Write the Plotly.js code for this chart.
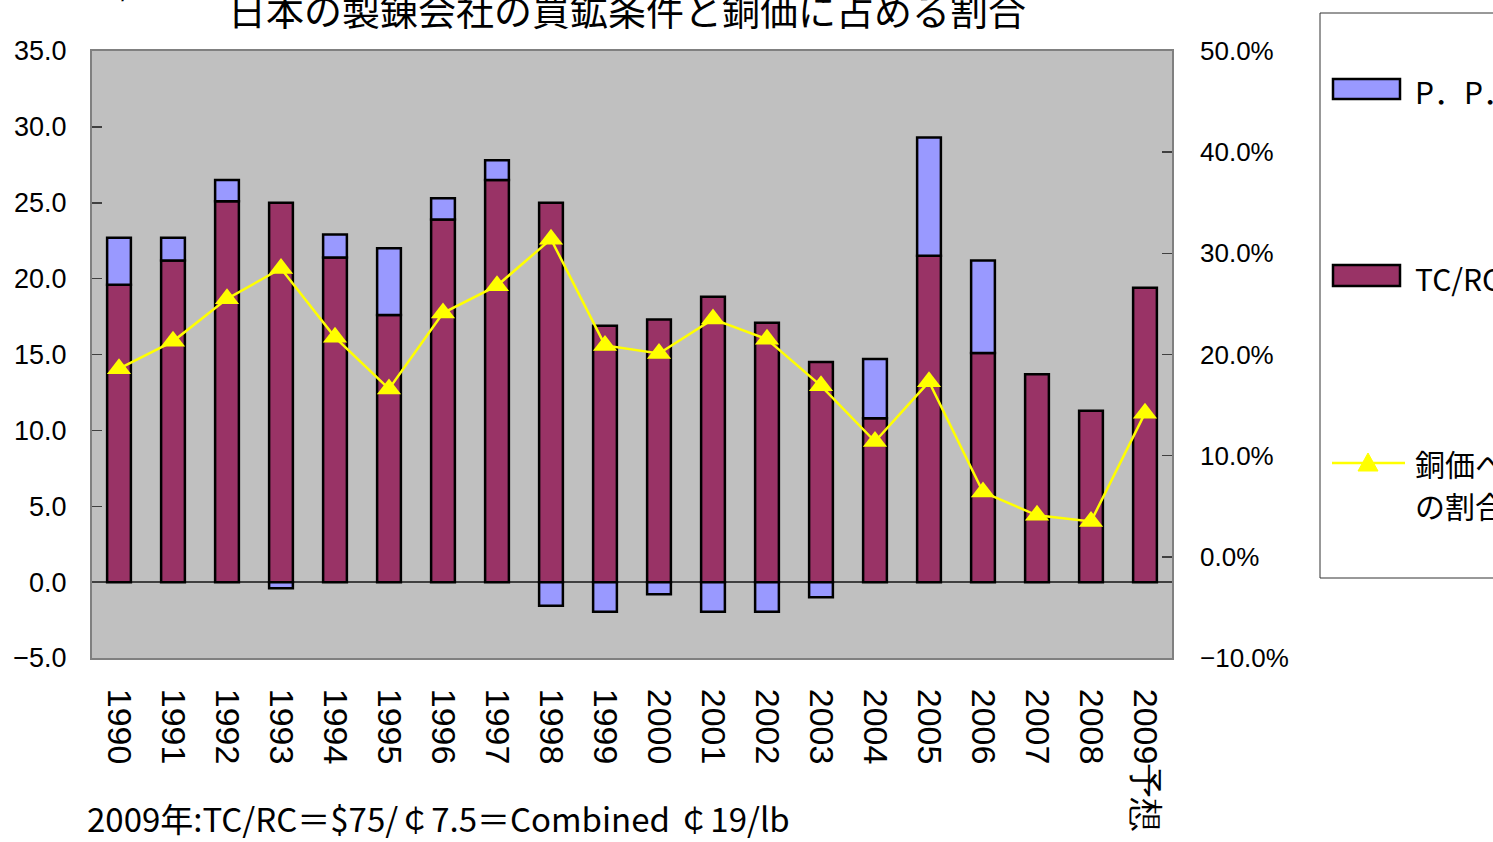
<!DOCTYPE html>
<html>
<head>
<meta charset="utf-8">
<script src="https://cdn.plot.ly/plotly-3.0.1.min.js"></script>
<style>html,body{margin:0;padding:0;background:#fff;overflow:hidden;}#chart{width:1493px;height:842px;}</style>
</head>
<body>
<div id="chart"></div>
<script>
// ---- data ----
var years = ['1990','1991','1992','1993','1994','1995','1996','1997','1998','1999',
             '2000','2001','2002','2003','2004','2005','2006','2007','2008','2009予想'];
var tcrc = [19.6, 21.2, 25.1, 25.0, 21.4, 17.6, 23.9, 26.5, 25.0, 16.9,
            17.3, 18.8, 17.1, 14.5, 10.8, 21.5, 15.1, 13.7, 11.3, 19.4];
var pp   = [3.1, 1.5, 1.4, -0.4, 1.5, 4.4, 1.4, 1.3, -1.55, -1.95,
            -0.8, -1.95, -1.95, -1.0, 3.9, 7.8, 6.1, null, null, null];
var share = [18.6, 21.3, 25.5, 28.5, 21.7, 16.6, 24.1, 26.8, 31.4, 20.9,
             20.1, 23.5, 21.5, 16.9, 11.4, 17.3, 6.4, 4.1, 3.5, 14.2];
var titleText = '日本の製錬会社の買鉱条件と銅価に占める割合';
var noteText = '2009年:TC/RC＝$75/￠7.5＝Combined ￠19/lb';
var unitText = '（￠/lb）';
var legendPP = 'P．P．';
var legendTC = 'TC/RC';
var legendShare1 = '銅価へ';
var legendShare2 = 'の割合';

// ---- geometry helpers (pixel -> paper) ----
var L = 92, R = 1172, T = 51, B = 658;
function px(x){ return (x - L) / (R - L); }
function py(y){ return (B - y) / (B - T); }

var cjk = '"Noto Sans CJK JP", "Noto Sans", sans-serif';
var latin = '"Liberation Sans", Arial, sans-serif';

var traces = [
  {type:'bar', name:legendTC, x:years, y:tcrc,
   marker:{color:'#993366', line:{color:'#000000', width:2.5}}, hoverinfo:'skip'},
  {type:'bar', name:legendPP, x:years, y:pp,
   marker:{color:'#9999FF', line:{color:'#000000', width:2.5}}, hoverinfo:'skip'},
  {type:'scatter', mode:'lines+markers', name:legendShare1 + legendShare2, x:years, y:share, yaxis:'y2',
   line:{color:'#FFFF00', width:2.5},
   marker:{symbol:'triangle-up', size:21, color:'#FFFF00'}, hoverinfo:'skip'}
];

var shapes = [
  {type:'rect', xref:'paper', yref:'paper', x0:px(1320), x1:px(1510), y0:py(578), y1:py(13),
   line:{color:'#333333', width:1}, fillcolor:'#FFFFFF', layer:'above'},
  {type:'rect', xref:'paper', yref:'paper', x0:px(1333), x1:px(1400), y0:py(99), y1:py(79),
   line:{color:'#000000', width:2.5}, fillcolor:'#9999FF', layer:'above'},
  {type:'rect', xref:'paper', yref:'paper', x0:px(1333), x1:px(1400), y0:py(286), y1:py(265),
   line:{color:'#000000', width:2.5}, fillcolor:'#993366', layer:'above'},
  {type:'line', xref:'paper', yref:'paper', x0:px(1332), x1:px(1405), y0:py(463), y1:py(463),
   line:{color:'#FFFF00', width:2.5}, layer:'above'},
  {type:'path', xref:'paper', yref:'paper',
   path:'M '+px(1368)+' '+py(453)+' L '+px(1378)+' '+py(471)+' L '+px(1358)+' '+py(471)+' Z',
   line:{color:'#FFFF00', width:1}, fillcolor:'#FFFF00', layer:'above'}
];

var annotations = [
  {xref:'paper', yref:'paper', x:px(85), y:py(818), xanchor:'left', yanchor:'middle',
   text:noteText, showarrow:false, font:{family:cjk, size:33, color:'#000'}},
  {xref:'paper', yref:'paper', x:px(1413), y:py(91), xanchor:'left', yanchor:'middle',
   text:legendPP, showarrow:false, font:{family:cjk, size:30, color:'#000'}},
  {xref:'paper', yref:'paper', x:px(1413), y:py(278), xanchor:'left', yanchor:'middle',
   text:legendTC, showarrow:false, font:{family:cjk, size:30, color:'#000'}},
  {xref:'paper', yref:'paper', x:px(1413), y:py(463), xanchor:'left', yanchor:'middle',
   text:legendShare1, showarrow:false, font:{family:cjk, size:30, color:'#000'}},
  {xref:'paper', yref:'paper', x:px(1413), y:py(505), xanchor:'left', yanchor:'middle',
   text:legendShare2, showarrow:false, font:{family:cjk, size:30, color:'#000'}},
  {xref:'paper', yref:'paper', x:px(125), y:py(-17), xanchor:'center', yanchor:'middle',
   text:unitText, showarrow:false, font:{family:cjk, size:30, color:'#000'}}
];

var layout = {
  width:1493, height:842,
  margin:{l:L, r:1493-R, t:T, b:842-B, pad:0},
  paper_bgcolor:'#FFFFFF', plot_bgcolor:'#C0C0C0',
  showlegend:false,
  barmode:'relative', bargap:0.56,
  title:{text:titleText, xref:'container', yref:'container', x:627/1493, xanchor:'center',
         y:1-12/842, yanchor:'middle', font:{family:cjk, size:38, color:'#000'}},
  xaxis:{type:'category', range:[-0.5, 19.5], tickangle:90, ticks:'', showline:true, mirror:true,
         linecolor:'#808080', linewidth:2, showgrid:false, ticklabelstandoff:22,
         tickfont:{family:latin, size:34, color:'#000'}},
  yaxis:{range:[-5,35], dtick:5, tick0:0, tickformat:'.1f', ticks:'inside', ticklen:10,
         tickcolor:'#404040', tickwidth:1.5, showline:true, mirror:true, linecolor:'#808080', linewidth:2,
         showgrid:false, zeroline:true, zerolinecolor:'#404040', zerolinewidth:1.5,
         ticklabelstandoff:18, tickfont:{family:latin, size:27, color:'#000'}},
  yaxis2:{range:[-10,50], dtick:10, tick0:0, tickformat:'.1f', ticksuffix:'%', overlaying:'y', side:'right',
          ticks:'inside', ticklen:10, tickcolor:'#404040', tickwidth:1.5, showgrid:false, zeroline:false,
          showline:false, ticklabelstandoff:27, tickfont:{family:latin, size:26, color:'#000'}},
  shapes:shapes,
  annotations:annotations
};

Plotly.newPlot('chart', traces, layout, {displayModeBar:false, staticPlot:true});
</script>
</body>
</html>
